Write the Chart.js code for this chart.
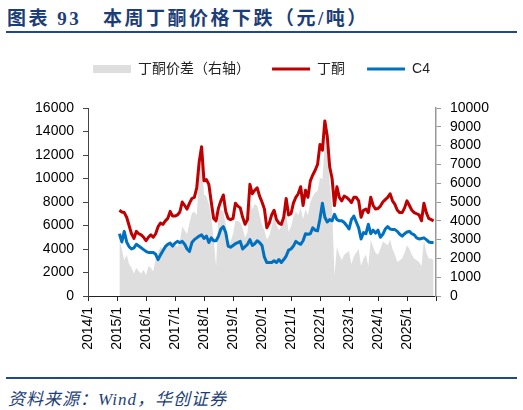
<!DOCTYPE html>
<html>
<head>
<meta charset="utf-8">
<script src="https://cdn.jsdelivr.net/npm/chart.js@4.4.1/dist/chart.umd.min.js"></script>
<style>
  body { margin: 0; width: 523px; height: 410px; background: #fff; position: relative; overflow: hidden; }
  #title { position: absolute; left: 7px; top: 3px; font: bold 19px "Liberation Serif", "Noto Sans CJK SC", serif; color: #1c3e78; letter-spacing: 2.5px; white-space: pre; }
  .rule { position: absolute; left: 6px; width: 511px; height: 0; border-top: 2px solid #1f4a8a; }
  #src { position: absolute; left: 8px; top: 385px; font: italic 17px "Liberation Serif", "Noto Sans CJK SC", serif; color: #1c3e78; letter-spacing: 1px; white-space: pre; }
  #box { position: absolute; left: 0; top: 40px; width: 523px; height: 330px; }
</style>
</head>
<body>
<div id="title">图表 93   本周丁酮价格下跌（元/吨）</div>
<div class="rule" style="top:31px"></div>
<div id="box"><canvas id="chart"></canvas></div>
<div class="rule" style="top:377px"></div>
<div id="src">资料来源：Wind，华创证券</div>

<script>
// monthly axis, 2014/1 .. 2026/1
const months = [];
for (let y = 2014; y <= 2026; y++) {
  for (let m = 1; m <= 12; m++) {
    if (y === 2026 && m > 1) break;
    months.push(y + "/" + m);
  }
}
const firstMonth = "2015/2";

// 丁酮 price, yuan/t (left axis)
const mek = [
  7300, 7150, 7100, 6700, 6000, 5300, 4900, 5500, 5300, 5200,
  5000, 4700, 5000, 5200, 5000, 5300, 5900, 6200, 6100, 6400,
  6600, 7200, 6800, 6800, 6900, 7150, 8000, 7700, 7400, 7900,
  8300, 8400, 9200, 11400, 12700, 9800, 9900, 9500, 8000, 6600,
  6400, 7500, 8100, 8600, 7200, 6600, 6500, 6600, 7900, 7650,
  7500, 6700, 6100, 6500, 9500, 8700, 9000, 9200, 8500, 8000,
  7400, 5800, 6200, 6900, 7300, 6500, 6200, 6100, 6700, 8300,
  6900, 7000, 7900, 8400, 8700, 9300, 7700, 9000, 8400, 9800,
  10300, 10700, 11200, 12900, 12400, 14900, 13600, 11000, 10000, 7700,
  9300, 8400, 8100, 8500, 8400, 8200, 7950, 8400, 8400, 8100,
  6700, 7300, 7400, 7100, 8400, 7700, 7400, 7450, 7650, 8000,
  8200, 8400, 8700, 8100, 7800, 7300, 7100, 7100, 7500, 8100,
  7700, 7300, 7100, 7000, 6900, 6400, 7900, 7100, 6600, 6500,
  6400
];

// C4 price, yuan/t (left axis)
const c4 = [
  5300, 4600, 5500, 4600, 4200, 4000, 4100, 4400, 4250, 4100,
  3950, 3800, 3700, 3700, 3700, 3550, 3100, 3500, 3850, 4200,
  4400, 4500, 4250, 4500, 4650, 4550, 4650, 4400, 4000, 3800,
  4550, 4800, 4950, 5100, 5200, 4900, 5100, 4550, 4950, 4700,
  4700, 5100, 5700, 5900, 5400, 4250, 4150, 4300, 4450, 4550,
  4650, 4000, 4200, 4400, 4800, 4300, 4450, 4700, 4550, 4300,
  3300, 2850, 2850, 2850, 3000, 2850, 3100, 2850, 3100, 3400,
  3900, 4000, 4250, 4650, 4500, 4400, 4700, 5300, 5250, 5300,
  5800, 5600, 5550, 6600, 7900, 6700, 6300, 6500, 6400, 6950,
  6500, 6400, 6400, 6250, 6000, 5700, 6500, 6800, 6300, 5800,
  4850, 5400, 5300, 6100, 5300, 5600, 5350, 5600, 5000, 5250,
  5700, 5900, 5700, 5650, 5650, 5500, 5250, 5100, 5300, 5450,
  5500, 5300, 5200, 4950, 4850, 4900, 4950, 4800, 4600, 4550,
  4550
];

// 丁酮价差, yuan/t (right axis)
const spread = [
  3000, 2500, 1900, 2200, 1700, 1500, 1200, 1500, 1300, 1200,
  1400, 1100, 1600, 1500, 1300, 2000, 2300, 2600, 2500, 2600,
  2600, 2800, 2600, 2700, 2600, 2900, 3700, 3500, 3300, 3900,
  4400, 4500, 4300, 6500, 7400, 5400, 5300, 4900, 4200, 3000,
  1600, 4300, 4600, 4500, 3800, 2800, 2900, 3300, 4000, 4000,
  3900, 3600, 3100, 3400, 5000, 4600, 4900, 4800, 4300, 3800,
  3500, 3000, 3200, 3700, 4200, 3800, 3500, 3700, 4000, 4400,
  3400, 3700, 4200, 4500, 4300, 4700, 4100, 4600, 4300, 5000,
  5300, 5500, 5600, 6300, 6200, 8300, 7800, 6000, 4800, 1100,
  2600, 2200, 1900, 2200, 2300, 2400, 1700, 2100, 2300, 2500,
  1600, 2000, 2200, 1600, 3000, 2600, 2300, 2200, 2500, 2900,
  2800, 2700, 3000, 2500, 2200, 1800, 1900, 2000, 2300, 2700,
  2500, 2200, 2000, 1900, 1800, 1600, 3000, 2300, 2000, 2000,
  1900
];

const start = months.indexOf(firstMonth);
const pts = arr => arr.map((v, i) => ({ x: months[start + i], y: v }));

const tickFont = { size: 14, family: '"Liberation Sans", Arial, sans-serif' };

// leave extra room under the legend
const legendGap = {
  id: "legendGap",
  beforeInit(chart) {
    const fit = chart.legend.fit;
    chart.legend.fit = function () {
      fit.call(this);
      this.height += 22;
    };
  },
};

new Chart(document.getElementById("chart"), {
  type: "line",
  data: {
    labels: months,
    datasets: [
      {
        label: "丁酮价差（右轴）",
        data: pts(spread),
        yAxisID: "y1",
        backgroundColor: "#dedede",
        borderWidth: 0,
        fill: "origin",
        pointRadius: 0,
        pointStyle: "rect",
        order: 3,
      },
      {
        label: "丁酮",
        data: pts(mek),
        yAxisID: "y",
        borderColor: "#c00000",
        backgroundColor: "#c00000",
        borderWidth: 3,
        borderJoinStyle: "round",
        fill: false,
        pointRadius: 0,
        pointStyle: "line",
        order: 2,
      },
      {
        label: "C4",
        data: pts(c4),
        yAxisID: "y",
        borderColor: "#0070c0",
        backgroundColor: "#0070c0",
        borderWidth: 3,
        borderJoinStyle: "round",
        fill: false,
        pointRadius: 0,
        pointStyle: "line",
        order: 1,
      },
    ],
  },
  options: {
    responsive: true,
    maintainAspectRatio: false,
    animation: false,
    layout: { padding: 0 },
    plugins: {
      tooltip: { enabled: false },
      legend: {
        position: "top",
        labels: {
          usePointStyle: true,
          pointStyleWidth: 38,
          boxHeight: 8,
          padding: 22,
          color: "#222",
          font: { size: 14, family: '"Liberation Sans", "Noto Sans CJK SC", sans-serif' },
          sort: (a, b) => a.datasetIndex - b.datasetIndex,
        },
      },
    },
    scales: {
      x: {
        type: "category",
        offset: false,
        border: { color: "#222", width: 1 },
        grid: {
          drawOnChartArea: false,
          drawTicks: true,
          tickLength: 5,
          tickColor: c => (c.index % 12 === 0 ? "#222" : "rgba(0,0,0,0)"),
        },
        ticks: {
          autoSkip: false,
          maxRotation: 90,
          minRotation: 90,
          padding: 6,
          color: "#000",
          font: tickFont,
          callback: (v, i) => (months[i].endsWith("/1") && i < months.length - 1 ? months[i] : ""),
        },
        afterFit: s => { s.height = 74; },
      },
      y: {
        position: "left",
        min: 0,
        max: 16000,
        border: { color: "#444", width: 1 },
        grid: { drawOnChartArea: false, tickLength: 5, tickColor: "#444" },
        ticks: { stepSize: 2000, autoSkip: false, padding: 9, color: "#000", font: tickFont, callback: v => String(v) },
        afterFit: s => { s.width = 88; },
      },
      y1: {
        position: "right",
        min: 0,
        max: 10000,
        border: { color: "#999", width: 1.5 },
        grid: { drawOnChartArea: false, tickLength: 5, tickColor: "#999" },
        ticks: { stepSize: 1000, autoSkip: false, padding: 9, color: "#000", font: tickFont, callback: v => String(v) },
        afterFit: s => { s.width = 87; },
      },
    },
  },
  plugins: [legendGap],
});
</script>
</body>
</html>
